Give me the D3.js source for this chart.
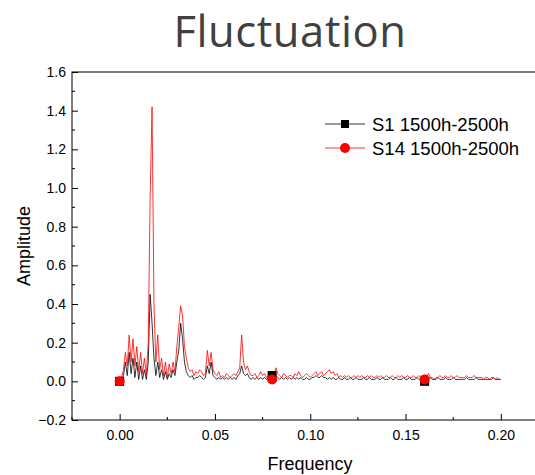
<!DOCTYPE html>
<html>
<head>
<meta charset="utf-8">
<script src="https://cdn.jsdelivr.net/npm/d3@7"></script>
<style>
  html, body { margin: 0; padding: 0; background: #fff; }
  svg { display: block; }
</style>
</head>
<body>
<svg id="chart" width="535" height="475"></svg>
<script>
// ---- data ----
const title = "Fluctuation";
const xLabel = "Frequency";
const yLabel = "Amplitude";
const seriesNames = ["S1 1500h-2500h", "S14 1500h-2500h"];
const freqStep = 0.001; // frequency spacing of the spectrum (0 .. 0.2)
const xTicks = [0.00, 0.05, 0.10, 0.15, 0.20];
const yTicks = [-0.2, 0.0, 0.2, 0.4, 0.6, 0.8, 1.0, 1.2, 1.4, 1.6];
const markerIdx = [0, 80, 160];

const s1 = [
  0.00,0.01,0.03,0.10,0.03,0.15,0.04,0.12,0.02,0.10,
  0.01,0.08,0.01,0.06,0.01,0.10,0.45,0.30,0.12,0.03,
  0.10,0.02,0.06,0.01,0.05,0.01,0.04,0.02,0.06,0.03,
  0.10,0.16,0.30,0.22,0.10,0.05,0.03,0.02,0.03,0.01,
  0.02,0.02,0.03,0.02,0.01,0.02,0.08,0.04,0.10,0.03,
  0.02,0.01,0.02,0.01,0.02,0.01,0.02,0.01,0.02,0.01,
  0.02,0.01,0.03,0.04,0.08,0.04,0.03,0.04,0.02,0.01,
  0.02,0.01,0.02,0.01,0.02,0.01,0.02,0.01,0.02,0.02,
  0.03,0.02,0.03,0.02,0.01,0.02,0.01,0.02,0.01,0.02,
  0.01,0.02,0.01,0.02,0.01,0.02,0.01,0.01,0.02,0.01,
  0.01,0.02,0.02,0.03,0.02,0.02,0.03,0.02,0.02,0.01,
  0.02,0.01,0.02,0.01,0.01,0.02,0.01,0.01,0.02,0.01,
  0.01,0.02,0.01,0.01,0.02,0.01,0.01,0.01,0.02,0.01,
  0.01,0.02,0.01,0.01,0.01,0.02,0.01,0.01,0.02,0.01,
  0.01,0.01,0.02,0.01,0.01,0.02,0.01,0.01,0.01,0.02,
  0.01,0.01,0.02,0.01,0.01,0.01,0.02,0.01,0.01,0.01,
  0.00,0.01,0.01,0.02,0.01,0.01,0.01,0.02,0.01,0.01,
  0.01,0.02,0.01,0.01,0.01,0.02,0.01,0.01,0.01,0.01,
  0.01,0.01,0.02,0.01,0.01,0.01,0.01,0.02,0.01,0.01,
  0.01,0.01,0.01,0.01,0.01,0.01,0.02,0.01,0.01,0.01,
  0.01
];
const s14 = [
  0.00,0.02,0.06,0.15,0.08,0.24,0.10,0.22,0.08,0.18,
  0.05,0.15,0.04,0.12,0.03,0.20,0.95,1.42,0.40,0.10,
  0.24,0.06,0.12,0.03,0.10,0.02,0.09,0.04,0.10,0.05,
  0.18,0.28,0.39,0.34,0.18,0.12,0.07,0.05,0.06,0.03,
  0.05,0.04,0.06,0.05,0.03,0.04,0.16,0.08,0.15,0.06,
  0.04,0.03,0.05,0.02,0.03,0.02,0.04,0.03,0.02,0.03,
  0.04,0.03,0.05,0.07,0.24,0.10,0.06,0.08,0.05,0.03,
  0.03,0.04,0.02,0.03,0.05,0.03,0.04,0.02,0.03,0.04,
  0.01,0.03,0.07,0.04,0.03,0.02,0.04,0.03,0.02,0.03,
  0.03,0.02,0.04,0.03,0.05,0.03,0.02,0.03,0.04,0.03,
  0.02,0.03,0.04,0.05,0.03,0.04,0.05,0.03,0.04,0.05,
  0.06,0.04,0.05,0.03,0.04,0.02,0.03,0.02,0.03,0.02,
  0.03,0.02,0.02,0.03,0.02,0.03,0.02,0.03,0.02,0.02,
  0.03,0.02,0.03,0.02,0.02,0.03,0.02,0.03,0.02,0.02,
  0.03,0.02,0.02,0.03,0.02,0.02,0.03,0.02,0.03,0.02,
  0.02,0.03,0.02,0.02,0.03,0.02,0.02,0.03,0.02,0.02,
  0.01,0.02,0.04,0.02,0.02,0.01,0.02,0.02,0.03,0.02,
  0.02,0.03,0.02,0.02,0.03,0.02,0.02,0.03,0.02,0.02,
  0.02,0.02,0.03,0.02,0.02,0.02,0.03,0.02,0.02,0.02,
  0.02,0.01,0.02,0.02,0.01,0.02,0.02,0.01,0.02,0.01,
  0.01
];
const seriesColors = ["#000000", "#ff0000"];

// ---- layout ----
const svg = d3.select("#chart");
const x = d3.scaleLinear().domain([-0.025, 0.225]).range([72, 548.5]);
const y = d3.scaleLinear().domain([-0.2, 1.6]).range([420, 72]);

// title
svg.append("text")
  .attr("x", 290).attr("y", 47)
  .attr("text-anchor", "middle")
  .attr("font-family", "'Open Sans', 'Noto Sans', sans-serif")
  .attr("font-size", 43.5)
  .attr("letter-spacing", 0.6)
  .attr("fill", "#404040")
  .text(title);

// frame
svg.append("rect")
  .attr("x", x.range()[0]).attr("y", y.range()[1])
  .attr("width", x.range()[1] - x.range()[0]).attr("height", y.range()[0] - y.range()[1])
  .attr("fill", "none").attr("stroke", "#000").attr("stroke-width", 1);

// axes with inward ticks
const font = "'Liberation Sans', Arial, sans-serif";
const xAxis = d3.axisBottom(x).tickValues(xTicks).tickFormat(d3.format(".2f")).tickSizeInner(-6).tickSizeOuter(0).tickPadding(10);
const gx = svg.append("g").attr("transform", `translate(0,${y.range()[0]})`).call(xAxis);
const xMinor = d3.range(-0.025, 0.2251, 0.05).map(v => +v.toFixed(3));
gx.selectAll(".minor").data(xMinor).enter().append("line")
  .attr("x1", d => x(d)).attr("x2", d => x(d)).attr("y1", 0).attr("y2", -3).attr("stroke", "#000");

const yAxis = d3.axisLeft(y).tickValues(yTicks).tickFormat(d3.format(".1f")).tickSizeInner(-6).tickSizeOuter(0).tickPadding(6);
const gy = svg.append("g").attr("transform", `translate(${x.range()[0]},0)`).call(yAxis);
const yMinor = d3.range(-0.1, 1.6, 0.2).map(v => +v.toFixed(2));
gy.selectAll(".minor").data(yMinor).enter().append("line")
  .attr("x1", 0).attr("x2", 3).attr("y1", d => y(d)).attr("y2", d => y(d)).attr("stroke", "#000");

[gx, gy].forEach(g => {
  g.select(".domain").remove();
  g.selectAll("text").attr("font-family", font).attr("font-size", 14).attr("fill", "#000");
});

// axis labels
svg.append("text").attr("x", 310).attr("y", 470).attr("text-anchor", "middle")
  .attr("font-family", font).attr("font-size", 18).text(xLabel);
svg.append("text").attr("transform", "translate(30,246) rotate(-90)").attr("text-anchor", "middle")
  .attr("font-family", font).attr("font-size", 18).text(yLabel);

// lines
const plot = svg.append("g");
const line = d3.line().x((d, i) => x(i * freqStep)).y(d => y(d));
[s1, s14].forEach((s, k) => {
  plot.append("path").datum(s).attr("d", line)
    .attr("fill", "none").attr("stroke", seriesColors[k]).attr("stroke-width", 0.8)
    .attr("stroke-linejoin", "round");
});
// markers
plot.selectAll(".m1").data(markerIdx).enter().append("rect")
  .attr("x", i => x(i * freqStep) - 4.5).attr("y", i => y(s1[i]) - 4.5)
  .attr("width", 9).attr("height", 9).attr("fill", "#000");
plot.selectAll(".m2").data(markerIdx).enter().append("circle")
  .attr("cx", i => x(i * freqStep)).attr("cy", i => y(s14[i])).attr("r", 5).attr("fill", "#ff0000");

// legend
const leg = svg.append("g");
seriesNames.forEach((name, k) => {
  const ly = 124 + k * 24;
  leg.append("line").attr("x1", 325).attr("x2", 365).attr("y1", ly).attr("y2", ly)
    .attr("stroke", seriesColors[k]).attr("stroke-width", 0.8);
  if (k === 0) {
    leg.append("rect").attr("x", 341).attr("y", ly - 4).attr("width", 8).attr("height", 8).attr("fill", "#000");
  } else {
    leg.append("circle").attr("cx", 345).attr("cy", ly).attr("r", 5).attr("fill", "#ff0000");
  }
  leg.append("text").attr("x", 372).attr("y", ly + 6.5)
    .attr("font-family", font).attr("font-size", 18.5).text(name);
});
</script>
</body>
</html>
